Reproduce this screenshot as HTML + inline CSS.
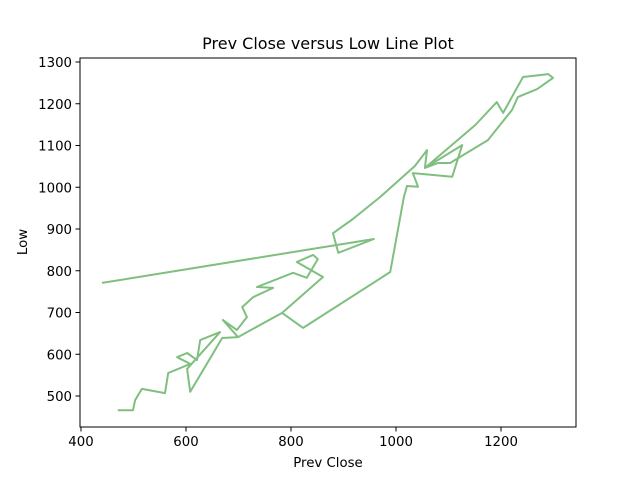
<!DOCTYPE html>
<html><head><meta charset="utf-8"><style>
body{margin:0;background:#fff;}
svg{display:block;font-family:"DejaVu Sans","Liberation Sans",sans-serif;}
</style></head><body>
<svg id="chart" width="640" height="480" viewBox="0 0 640 480" xmlns="http://www.w3.org/2000/svg">
<rect x="0" y="0" width="640" height="480" fill="#fff"/>
<text x="328" y="49" text-anchor="middle" font-size="16" fill="#000">Prev Close versus Low Line Plot</text>
<g id="plot"></g>
<rect x="80" y="58" width="496" height="369" fill="none" stroke="#000" stroke-width="1"/>
<text x="328" y="467" text-anchor="middle" font-size="13.3">Prev Close</text>
<text x="27" y="242" text-anchor="middle" font-size="13.3" transform="rotate(-90 27 242)">Low</text>
</svg>
<script>
const prevClose = [440,958,890,880,918,970,1036,1059,1055,1151,1192,1204,1242,1290,1299,1269,1232,1221,1175,1103,1080,1055,1126,1107,1032,1042,1021,1015,989,823,783,699,783,861,811,842,851,830,804,735,766,728,707,716,697,670,699,669,608,602,665,627,621,602,583,608,566,560,516,503,499,470];
const low = [771,876,843,890,924,977,1051,1089,1046,1149,1204,1178,1264,1271,1262,1235,1216,1185,1113,1058,1058,1046,1101,1025,1034,1001,1003,977,797,663,699,641,699,785,821,838,828,783,795,761,759,737,713,689,658,682,641,639,510,565,653,634,586,603,593,577,555,507,517,490,466,466];
const xTicks = [400,600,800,1000,1200];
const yTicks = [500,600,700,800,900,1000,1100,1200,1300];

const NS = "http://www.w3.org/2000/svg";
function xs(v){ return 81 + (v - 400) * 0.525; }
function ys(v){ return 396 - (v - 500) * 0.4175; }
const g = document.getElementById('plot');

xTicks.forEach(t => {
  const l = document.createElementNS(NS,'line');
  l.setAttribute('x1', xs(t)); l.setAttribute('x2', xs(t));
  l.setAttribute('y1', 427); l.setAttribute('y2', 431.5);
  l.setAttribute('stroke','#000');
  
  
  g.appendChild(l);
  const tx = document.createElementNS(NS,'text');
  tx.setAttribute('x', xs(t)); tx.setAttribute('y', 446);
  tx.setAttribute('text-anchor','middle'); tx.setAttribute('font-size','13.3');
  tx.textContent = t;
  
  
  g.appendChild(tx);
});
yTicks.forEach(t => {
  const l = document.createElementNS(NS,'line');
  l.setAttribute('x1', 75.5); l.setAttribute('x2', 80);
  l.setAttribute('y1', ys(t)); l.setAttribute('y2', ys(t));
  l.setAttribute('stroke','#000');
  
  
  g.appendChild(l);
  const tx = document.createElementNS(NS,'text');
  tx.setAttribute('x', 72); tx.setAttribute('y', ys(t) + 5);
  tx.setAttribute('text-anchor','end'); tx.setAttribute('font-size','13.3');
  tx.textContent = t;
  
  
  g.appendChild(tx);
});

const pts = prevClose.map((v,i) => xs(v).toFixed(1) + ',' + ys(low[i]).toFixed(1)).join(' ');
const pl = document.createElementNS(NS,'polyline');
pl.setAttribute('points', pts);
pl.setAttribute('fill','none');
pl.setAttribute('stroke','#7fbf7f');
pl.setAttribute('stroke-width','2');
pl.setAttribute('stroke-linejoin','round');


g.appendChild(pl);
</script>
</body></html>
